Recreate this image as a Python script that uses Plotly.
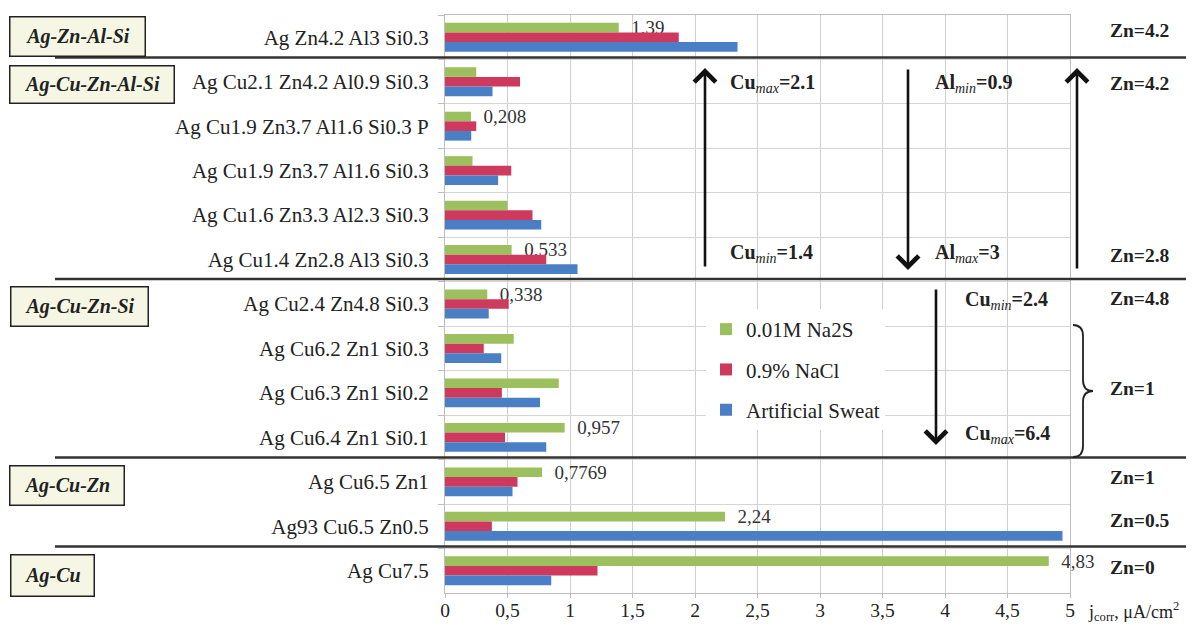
import plotly.graph_objects as go

# ---------------- data ----------------
categories = [
    "Ag Zn4.2 Al3 Si0.3",
    "Ag Cu2.1 Zn4.2 Al0.9 Si0.3",
    "Ag Cu1.9 Zn3.7 Al1.6 Si0.3 P",
    "Ag Cu1.9 Zn3.7 Al1.6 Si0.3",
    "Ag Cu1.6 Zn3.3 Al2.3 Si0.3",
    "Ag Cu1.4 Zn2.8 Al3 Si0.3",
    "Ag Cu2.4 Zn4.8 Si0.3",
    "Ag Cu6.2 Zn1 Si0.3",
    "Ag Cu6.3 Zn1 Si0.2",
    "Ag Cu6.4 Zn1 Si0.1",
    "Ag Cu6.5 Zn1",
    "Ag93 Cu6.5 Zn0.5",
    "Ag Cu7.5",
]
na2s = [1.39, 0.25, 0.208, 0.22, 0.50, 0.533, 0.338, 0.55, 0.91, 0.957, 0.7769, 2.24, 4.83]
nacl = [1.87, 0.60, 0.25, 0.53, 0.70, 0.81, 0.51, 0.31, 0.455, 0.48, 0.58, 0.375, 1.22]
sweat = [2.34, 0.38, 0.21, 0.425, 0.77, 1.06, 0.35, 0.45, 0.76, 0.81, 0.54, 4.94, 0.85]
na2s_labels = ["1,39", "", "0,208", "", "", "0,533", "0,338", "", "", "0,957", "0,7769", "2,24", "4,83"]

series_names = ["0.01M Na2S", "0.9% NaCl", "Artificial Sweat"]
series_colors = ["#9dc05e", "#cd3a5e", "#4a7fc5"]

x_tick_vals = [0, 0.5, 1, 1.5, 2, 2.5, 3, 3.5, 4, 4.5, 5]
x_tick_text = ["0", "0,5", "1", "1,5", "2", "2,5", "3", "3,5", "4", "4,5", "5"]

group_labels = ["Ag-Zn-Al-Si", "Ag-Cu-Zn-Al-Si", "Ag-Cu-Zn-Si", "Ag-Cu-Zn", "Ag-Cu"]
zn_labels = ["Zn=4.2", "Zn=4.2", "Zn=2.8", "Zn=4.8", "Zn=1", "Zn=1", "Zn=0.5", "Zn=0"]

# ---------------- geometry (page pixels; the page body has an 8px margin) ----------------
OFF = 8
PAGE_W, PAGE_H = 1194, 627
PLOT_X0, PLOT_X1, PLOT_Y0, PLOT_Y1 = 445, 1070, 15, 593
W, H = PAGE_W - OFF, PAGE_H - OFF
L, R, T, B = PLOT_X0 - OFF, PAGE_W - PLOT_X1, PLOT_Y0 - OFF, PAGE_H - PLOT_Y1
PW = PLOT_X1 - PLOT_X0
PH = PLOT_Y1 - PLOT_Y0
SERIF = "Liberation Serif"


def px(x):
    return (x - PLOT_X0) / PW


def py(y):
    return (PLOT_Y1 - y) / PH


fig = go.Figure()
for name, vals, color, labels in zip(series_names, [na2s, nacl, sweat], series_colors,
                                     [na2s_labels, None, None]):
    kw = {}
    if labels is not None:
        kw = dict(text=labels, textposition="outside", texttemplate="\u00a0\u00a0%{text}",
                  textfont=dict(family=SERIF, size=19, color="#333"), constraintext="none")
    fig.add_trace(go.Bar(
        y=categories, x=vals, name=name, orientation="h", legendgroup=name,
        marker=dict(color=color, line=dict(width=0)), cliponaxis=False, **kw))

fig.update_layout(
    width=W, height=H,
    margin=dict(l=L, r=R, t=T, b=B, autoexpand=False),
    paper_bgcolor="white", plot_bgcolor="white",
    barmode="group", bargap=0.35, bargroupgap=0,
    font=dict(family=SERIF, size=20, color="#222"),
    showlegend=True,
    legend=dict(x=px(706), y=py(309), xanchor="left", yanchor="top", bgcolor="white",
                font=dict(family=SERIF, size=21, color="#222"), tracegroupgap=10,
                itemwidth=30, traceorder="grouped"),
    xaxis=dict(range=[0, 5], tickvals=x_tick_vals, ticktext=x_tick_text,
               showgrid=True, gridcolor="#cfcfcf", gridwidth=1,
               ticks="outside", ticklen=4, tickcolor="#bdbdbd",
               showline=True, linecolor="#bdbdbd", mirror=True, zeroline=False,
               tickfont=dict(family=SERIF, size=19.5, color="#222"), ticklabelstandoff=-4),
    yaxis=dict(type="category", autorange="reversed", tickson="boundaries",
               showgrid=True, gridcolor="#d5d5d5", gridwidth=1,
               ticks="outside", ticklen=6, tickcolor="#bdbdbd",
               showline=True, linecolor="#bdbdbd", mirror=True,
               tickfont=dict(family=SERIF, size=21, color="#222"), ticklabelstandoff=11),
)

# thick group separators
for yy in [57.5, 279, 457.5, 546.5]:
    fig.add_shape(type="line", xref="paper", yref="paper", x0=px(55), x1=px(1194),
                  y0=py(yy), y1=py(yy), line=dict(color="#333", width=2.5))

# group boxes (center x, center y, width, height)
boxes = [(78, 36, 136, 40), (92, 84, 165, 38), (79, 306, 138, 40), (67, 486, 115, 40), (52, 575, 84, 42)]
for txt, (cx, cy, bw, bh) in zip(group_labels, boxes):
    fig.add_annotation(x=px(cx), y=py(cy), xref="paper", yref="paper", xanchor="center", yanchor="middle",
                       text="<b><i>" + txt + "</i></b>", showarrow=False, width=bw - 2, height=bh - 2,
                       bgcolor="#f5f7e4", bordercolor="#222", borderwidth=1.5, borderpad=0,
                       font=dict(family=SERIF, size=20, color="#222"))

# right side Zn labels
zn_y = [31, 83, 255, 298, 389, 478, 520, 567]
for txt, yy in zip(zn_labels, zn_y):
    fig.add_annotation(x=px(1108), y=py(yy), xref="paper", yref="paper", xanchor="left", yanchor="middle",
                       text="<b>" + txt + "</b>", showarrow=False,
                       font=dict(family=SERIF, size=19.5, color="#222"))

# arrows: x, tip y, tail y
arrows = [(705, 68, 268), (908, 270, 68), (1077, 68, 270), (936, 445, 288)]
for ax_, tip, tail in arrows:
    fig.add_annotation(x=px(ax_), y=py(tip), xref="paper", yref="paper", ax=0, ay=tail - tip,
                       text="", showarrow=True, arrowhead=4, arrowsize=1.6, arrowwidth=2.6,
                       arrowcolor="#111")

# composition notes
notes = [
    ("<b>Cu</b><sub><i>max</i></sub><b>=2.1</b>", 728, 83),
    ("<b>Cu</b><sub><i>min</i></sub><b>=1.4</b>", 728, 253),
    ("<b>Al</b><sub><i>min</i></sub><b>=0.9</b>", 933, 83),
    ("<b>Al</b><sub><i>max</i></sub><b>=3</b>", 933, 253),
    ("<b>Cu</b><sub><i>min</i></sub><b>=2.4</b>", 963, 300),
    ("<b>Cu</b><sub><i>max</i></sub><b>=6.4</b>", 963, 434),
]
for txt, xx, yy in notes:
    fig.add_annotation(x=px(xx), y=py(yy), xref="paper", yref="paper", xanchor="left", yanchor="middle",
                       text=txt, showarrow=False, font=dict(family=SERIF, size=20, color="#222"))


# curly brace
def P(x, y):
    return f"{px(x):.5f},{py(y):.5f}"


brace = (f"M{P(1073,325)} Q{P(1083,325)} {P(1083,336)} L{P(1083,380)} "
         f"Q{P(1083,391)} {P(1093,391)} Q{P(1083,391)} {P(1083,402)} "
         f"L{P(1083,446)} Q{P(1083,457)} {P(1073,457)}")
fig.add_shape(type="path", xref="paper", yref="paper", path=brace,
              line=dict(color="#222", width=1.8))

# axis title
fig.add_annotation(x=px(1086), y=py(611), xref="paper", yref="paper", xanchor="left", yanchor="middle",
                   text="j<sub>corr</sub>, μA/cm<sup>2</sup>", showarrow=False,
                   font=dict(family=SERIF, size=18, color="#222"))

fig.write_html("out.html")
